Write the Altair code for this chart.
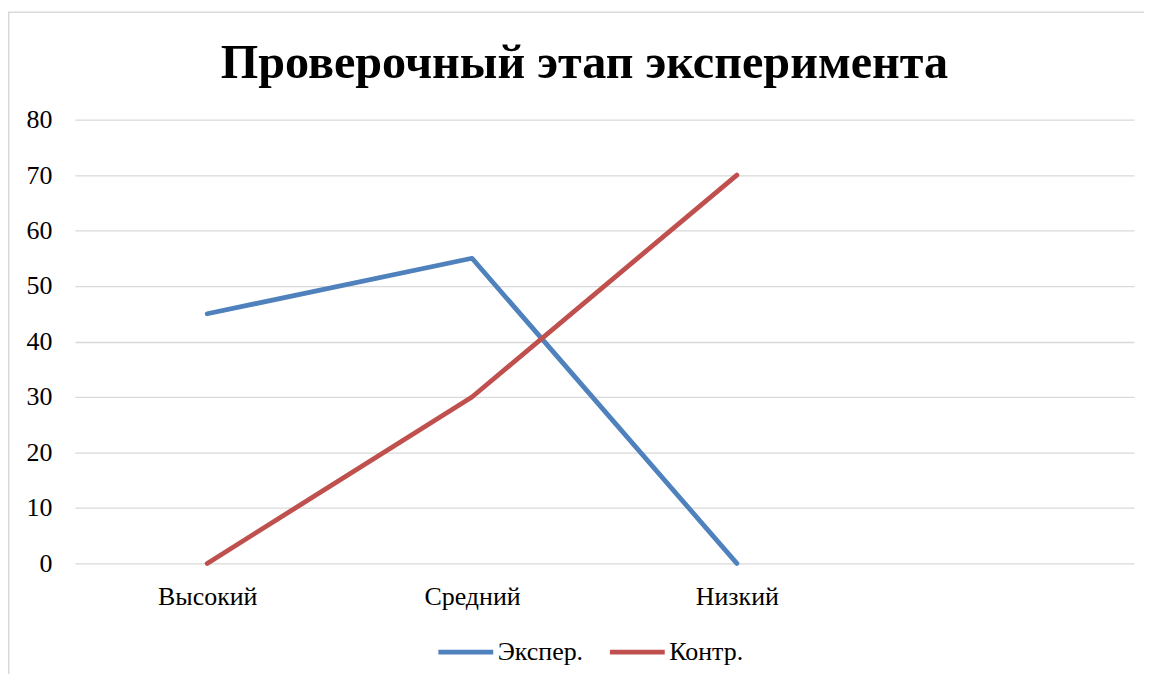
import altair as alt
import pandas as pd

categories = ["Высокий", "Средний", "Низкий"]
axis_slots = ["Высокий", "Средний", "Низкий", " "]
series_names = ["Экспер.", "Контр."]
exper_values = [45, 55, 0]
control_values = [0, 30, 70]
y_ticks = [0, 10, 20, 30, 40, 50, 60, 70, 80]
colors = ["#4f81bd", "#c0504d"]
title_text = "Проверочный этап эксперимента"

rows = []
for cat, v in zip(categories, exper_values):
    rows.append({"cat": cat, "series": series_names[0], "value": v})
for cat, v in zip(categories, control_values):
    rows.append({"cat": cat, "series": series_names[1], "value": v})
df = pd.DataFrame(rows)

FONT = "Liberation Serif"
W, H = 1062, 445

lines = alt.Chart(df).mark_line(strokeWidth=4.8, strokeCap="round", strokeJoin="round").encode(
    x=alt.X("cat:N", scale=alt.Scale(type="point", domain=axis_slots, padding=0.5),
            sort=axis_slots,
            axis=alt.Axis(title=None, labelAngle=0, domain=False, ticks=False, grid=False,
                          labelFont=FONT, labelFontSize=26, labelColor="#000000",
                          labelPadding=20)),
    y=alt.Y("value:Q", scale=alt.Scale(domain=[0, 80], nice=False),
            axis=alt.Axis(title=None, values=y_ticks, domain=False, ticks=False,
                          grid=True, gridColor="#d9d9d9", gridWidth=1.3,
                          labelFont=FONT, labelFontSize=26, labelColor="#000000",
                          labelPadding=23)),
    color=alt.Color("series:N",
                    scale=alt.Scale(domain=series_names, range=colors),
                    sort=series_names,
                    legend=alt.Legend(title=None, orient="none", direction="horizontal",
                                      legendX=362, legendY=504,
                                      symbolType="stroke", symbolSize=3025,
                                      symbolStrokeWidth=4.8,
                                      labelFont=FONT, labelFontSize=26,
                                      labelColor="#000000", labelOffset=2,
                                      columnPadding=16)),
)

border = alt.Chart(pd.DataFrame({"k": [0]})).mark_rect(
    fill=None, stroke="#d9d9d9", strokeWidth=1.5
).encode(
    x=alt.value(-66.25), x2=alt.value(1300),
    y=alt.value(-107.5), y2=alt.value(800),
)

title = alt.Chart(pd.DataFrame({"t": [title_text]})).mark_text(
    font=FONT, fontSize=48.3, fontWeight="bold", color="#000000",
    align="center", baseline="alphabetic"
).encode(
    text="t:N", x=alt.value(511), y=alt.value(-42)
)

chart = alt.layer(border, lines, title).properties(
    width=W, height=H,
    background="#ffffff",
    autosize=alt.AutoSizeParams(type="none"),
    padding={"left": 67, "top": 111, "right": 10, "bottom": 110},
).configure_view(stroke=None)

chart.save("out.html", embed_options={"renderer": "svg", "actions": False})
